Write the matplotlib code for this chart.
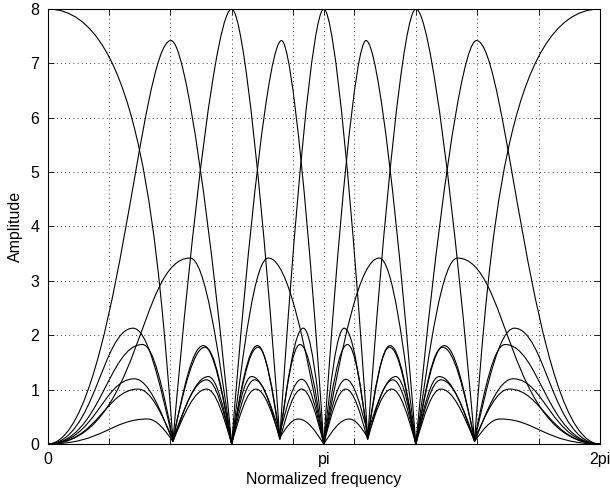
import numpy as np
import matplotlib
matplotlib.use('Agg')
from matplotlib import pyplot as plt
from matplotlib.path import Path
from matplotlib.patches import PathPatch

plt.rcParams['font.family'] = ['Liberation Sans', 'DejaVu Sans']

# Positions are in units of pi (0 .. 2), amplitudes as drawn.
# Only the left half (0 .. pi) is listed, the responses are symmetric about pi.
# Each knot: (w/pi, amplitude, shape of the curve at that knot)
lowpass = [(0.0, 8.0, 'h'), (0.454, 0.08, 's')]
band1 = [(0.0, 0.0, 'f'), (0.447, 7.42, 'q'), (0.6667, 0.0, 'v')]
band2 = [(0.454, 0.05, 'v'), (0.6667, 8.0, 'q'), (0.841, 0.10, 'v')]
band3 = [(0.6667, 0.0, 'v'), (0.847, 7.42, 'q'), (1.0, 0.0, 'v')]
band4 = [(0.841, 0.12, 'v'), (1.0, 8.0, 'q')]
mid1 = [(0.0, 0.0, 'g'), (0.516, 3.42, 'p'), (0.6667, 0.0, 'v')]
mid2 = [(0.6667, 0.0, 'v'), (0.799, 3.42, 'p'), (1.0, 0.0, 'v')]

# notches between the small side lobes
notches = [0.0, 0.454, 0.6667, 0.841, 1.0]

# side lobes in each gap: peak position, peak height, value at left / right notch
lobe_pos = [[0.310, 0.344, 0.314, 0.328, 0.362],
            [0.564, 0.570, 0.582, 0.576, 0.576],
            [0.760, 0.762, 0.739, 0.750, 0.754],
            [0.926, 0.914, 0.920, 0.920, 0.908]]
lobe_amp = [[2.13, 1.83, 1.20, 1.01, 0.46],
            [1.81, 1.78, 1.24, 1.18, 1.01],
            [1.81, 1.78, 1.24, 1.18, 1.01],
            [2.13, 1.83, 1.19, 1.01, 0.46]]
lobe_left = [[0.0, 0.0, 0.0, 0.0, 0.0],
             [0.06, 0.10, 0.04, 0.08, 0.05],
             [0.0, 0.0, 0.0, 0.0, 0.0],
             [0.10, 0.15, 0.20, 0.08, 0.12]]
lobe_right = [[0.06, 0.10, 0.04, 0.08, 0.05],
              [0.0, 0.0, 0.0, 0.0, 0.0],
              [0.10, 0.15, 0.20, 0.08, 0.12],
              [0.0, 0.0, 0.0, 0.0, 0.0]]

# bezier handle of each knot shape: (fraction of dx, fraction of dy)
handles = {'f': (0.55, 0.0), 'g': (0.65, 0.0), 'h': (0.75, 0.0), 'p': (0.36, 0.0),
           'q': (0.25, 0.0), 'v': (0.334, 0.525), 's': (0.12, 0.45)}


def knots_to_path(knots, mirror=False):
    pts = [(2.0 - x if mirror else x, y, s) for x, y, s in knots]
    verts = [(pts[0][0] * np.pi, pts[0][1])]
    codes = [Path.MOVETO]
    for (x0, y0, s0), (x1, y1, s1) in zip(pts[:-1], pts[1:]):
        dx, dy = x1 - x0, y1 - y0
        h0, h1 = handles[s0], handles[s1]
        c1 = (x0 + h0[0] * dx, y0 + h0[1] * dy)
        c2 = (x1 - h1[0] * dx, y1 - h1[1] * dy)
        for px, py in (c1, c2, (x1, y1)):
            verts.append((px * np.pi, py))
            codes.append(Path.CURVE4)
    return Path(verts, codes)


curves = [lowpass, band1, band2, band3, band4, mid1, mid2]
for gap in range(len(lobe_pos)):
    a, b = notches[gap], notches[gap + 1]
    first = 'f' if a == 0.0 else 'v'
    for p, h, yl, yr in zip(lobe_pos[gap], lobe_amp[gap], lobe_left[gap], lobe_right[gap]):
        curves.append([(a, yl, first), (p, h, 'p'), (b, yr, 'v')])

fig = plt.figure(figsize=(6.1, 4.94), dpi=100)
ax = fig.add_axes([0.0779, 0.1012, 0.9057, 0.8806])

for knots in curves:
    for mirror in (False, True):
        ax.add_patch(PathPatch(knots_to_path(knots, mirror), fill=False,
                               edgecolor='k', lw=0.8))

xt = sorted(list(np.arange(10) * 2 * np.pi / 9) + [np.pi])
xl = []
for v in xt:
    if np.isclose(v, 0):
        xl.append('0')
    elif np.isclose(v, np.pi):
        xl.append('pi')
    elif np.isclose(v, 2 * np.pi):
        xl.append('2pi')
    else:
        xl.append('')
ax.set_xticks(xt)
ax.set_xticklabels(xl)
ax.set_yticks(range(9))
ax.set_xlim(0, 2 * np.pi)
ax.set_ylim(0, 8)
ax.tick_params(direction='in', top=True, right=True, length=4, width=0.6,
               labelsize=11.5, pad=6)
ax.grid(True, color='k', linestyle=(0, (1, 4)), lw=0.6)
for sp in ax.spines.values():
    sp.set_linewidth(0.8)
ax.set_xlabel('Normalized frequency', fontsize=11.5, labelpad=3)
ax.set_ylabel('Amplitude', fontsize=11.5, labelpad=5)

fig.savefig('out.png', dpi=100)
